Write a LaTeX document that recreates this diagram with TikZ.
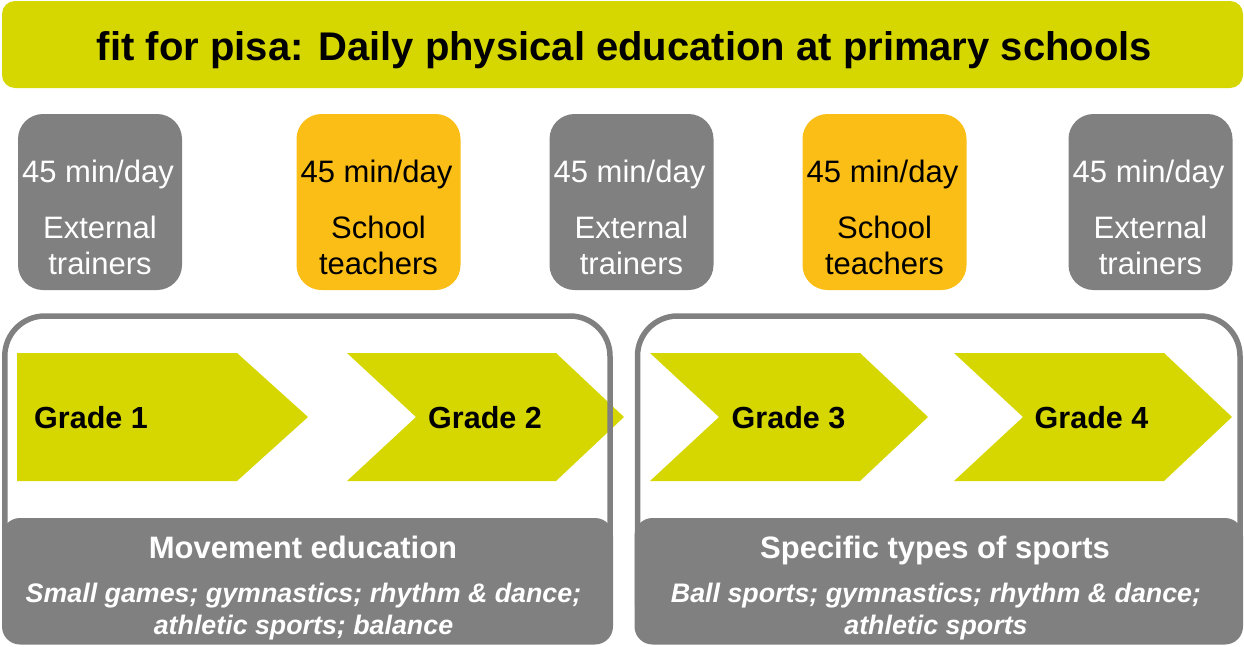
\documentclass[tikz,border=0pt]{standalone}
\usepackage{fontspec}
\setmainfont{Liberation Sans}
\definecolor{fitgreen}{RGB}{214,214,0}
\definecolor{fitorange}{RGB}{250,190,22}
\definecolor{fitgray}{RGB}{128,128,128}
\begin{document}
\begin{tikzpicture}[x=1pt,y=-1pt,
  banner/.style={fill=fitgreen, rounded corners=13pt, inner sep=0pt,
    minimum width=1241pt, minimum height=87pt},
  slot/.style={rounded corners=25pt, inner sep=0pt,
    minimum width=164pt, minimum height=176pt},
  extslot/.style={slot, fill=fitgray},
  schslot/.style={slot, fill=fitorange},
  txt/.style={inner sep=0pt, anchor=base, font=\fontsize{31}{36}\selectfont},
  wtxt/.style={txt, text=white},
  btxt/.style={txt, text=black},
  grade/.style={txt, font=\fontsize{30.5}{36}\selectfont\bfseries},
  chev/.style={fill=fitgreen},
  frame/.style={draw=fitgray, line width=5.5pt, rounded corners=40pt},
  phase/.style={fill=fitgray, rounded corners=18pt},
  head/.style={txt, text=white, font=\fontsize{31}{36}\selectfont\bfseries},
  sub/.style={txt, text=white, font=\fontsize{26.8}{31}\selectfont\bfseries\itshape}]
\useasboundingbox (0,0) rectangle (1244,646);

% title banner
\node[banner] (title) at (622.5,44.5) {};
\node[txt, font=\fontsize{40}{48}\selectfont\bfseries] (titletext) at (624.5,60)
  {fit for pisa: Daily physical education at primary schools};

% daily lessons: who teaches
\node[extslot] (s1) at (100,202) {};
\node[schslot] (s2) at (378.5,202) {};
\node[extslot] (s3) at (631.5,202) {};
\node[schslot] (s4) at (884.5,202) {};
\node[extslot] (s5) at (1150.5,202) {};

\node[wtxt] (s1a) at (98,182) {45 min/day};
\node[wtxt] (s1b) at (100,238) {External};
\node[wtxt] (s1c) at (100,274) {trainers};
\node[btxt] (s2a) at (376.5,182) {45 min/day};
\node[btxt] (s2b) at (378.5,238) {School};
\node[btxt] (s2c) at (378.5,274) {teachers};
\node[wtxt] (s3a) at (629.5,182) {45 min/day};
\node[wtxt] (s3b) at (631.5,238) {External};
\node[wtxt] (s3c) at (631.5,274) {trainers};
\node[btxt] (s4a) at (882.5,182) {45 min/day};
\node[btxt] (s4b) at (884.5,238) {School};
\node[btxt] (s4c) at (884.5,274) {teachers};
\node[wtxt] (s5a) at (1148.5,182) {45 min/day};
\node[wtxt] (s5b) at (1150.5,238) {External};
\node[wtxt] (s5c) at (1150.5,274) {trainers};

% grade chevrons
\fill[chev] (17,353) -- (237,353) -- (308,417) -- (237,481) -- (17,481) -- cycle;
\fill[chev] (347,353) -- (556,353) -- (624,417) -- (556,481) -- (347,481) -- (416,417) -- cycle;
\fill[chev] (650,353) -- (860,353) -- (928,417) -- (860,481) -- (650,481) -- (719,417) -- cycle;
\fill[chev] (954,353) -- (1164,353) -- (1232,417) -- (1164,481) -- (954,481) -- (1023,417) -- cycle;
\node[grade] (g1) at (91,428) {Grade 1};
\node[grade] (g2) at (485,428) {Grade 2};
\node[grade] (g3) at (788.5,428) {Grade 3};
\node[grade] (g4) at (1091.5,428) {Grade 4};

% two phases
\draw[frame] (4.8,316) rectangle (610,641);
\draw[frame] (637.5,316) rectangle (1240,641);
\fill[phase] (2,518) rectangle (613,644.5);
\fill[phase] (634.5,518) rectangle (1243,644.5);

\node[head] (h1) at (303,558) {Movement education};
\node[sub] (h1a) at (303.5,602) {Small games; gymnastics; rhythm \& dance;};
\node[sub] (h1b) at (303.5,634) {athletic sports; balance};
\node[head] (h2) at (935,558) {Specific types of sports};
\node[sub] (h2a) at (936,602) {Ball sports; gymnastics; rhythm \& dance;};
\node[sub] (h2b) at (936,634) {athletic sports};
\end{tikzpicture}
\end{document}
